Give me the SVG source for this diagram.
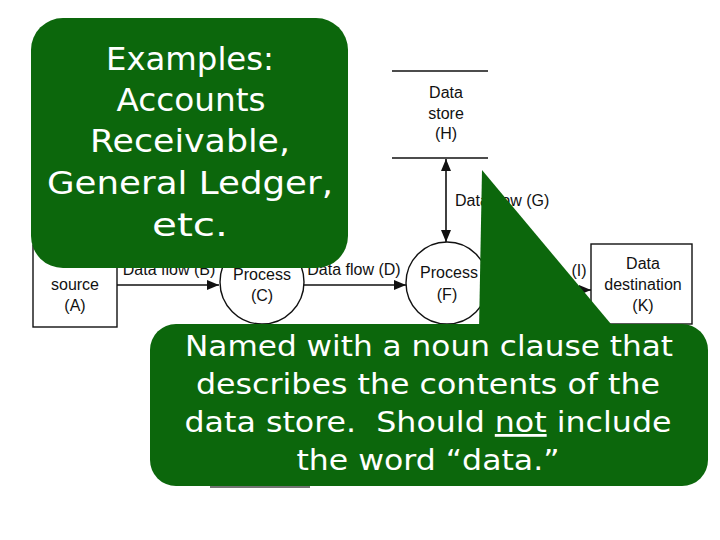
<svg xmlns="http://www.w3.org/2000/svg" width="720" height="540" viewBox="0 0 720 540">
<defs>
<style>
.lbl{font-family:"Liberation Sans",Arial,sans-serif;font-size:16px;fill:#111;text-anchor:middle}
.lbls{font-family:"Liberation Sans",Arial,sans-serif;font-size:16px;fill:#111}
.ln{stroke:#111;stroke-width:1.6;fill:none}
.shape{stroke:#111;stroke-width:1.4;fill:#fff}
.callout{fill:#0c670c}
.ct{font-family:"DejaVu Sans","Liberation Sans",sans-serif;fill:#fff;text-anchor:middle}
</style>
<marker id="ah" viewBox="0 0 12 10" refX="12" refY="5" markerWidth="12" markerHeight="10" markerUnits="userSpaceOnUse" orient="auto-start-reverse">
<path d="M0,0 L12,5 L0,10 Z" fill="#111"/>
</marker>
</defs>
<rect width="720" height="540" fill="#fff"/>

<g id="connectors">
<line class="ln" x1="117" y1="285" x2="219" y2="285" marker-end="url(#ah)"/>
<line class="ln" x1="304" y1="285" x2="406" y2="285" marker-end="url(#ah)"/>
<line class="ln" x1="446" y1="159" x2="446" y2="242" marker-start="url(#ah)" marker-end="url(#ah)"/>
<line class="ln" x1="487" y1="290" x2="591" y2="290" marker-end="url(#ah)"/>
<text class="lbl" x="169" y="275">Data flow (B)</text>
<text class="lbl" x="354" y="275">Data flow (D)</text>
<text class="lbls" x="455" y="206">Data flow (G)</text>
<text class="lbl" x="579" y="276">(I)</text>
</g>

<g id="node-A">
<rect class="shape" x="33" y="245" width="84" height="82"/>
<text class="lbl" x="75" y="290">source</text>
<text class="lbl" x="75" y="311">(A)</text>
</g>

<g id="node-C">
<circle class="shape" cx="262" cy="282" r="42"/>
<text class="lbl" x="262" y="280">Process</text>
<text class="lbl" x="262" y="301">(C)</text>
</g>

<g id="node-F">
<circle class="shape" cx="447" cy="283" r="41"/>
<text class="lbl" x="449" y="278">Process</text>
<text class="lbl" x="447" y="300">(F)</text>
</g>

<g id="node-H">
<line class="ln" x1="392" y1="71" x2="488" y2="71"/>
<line class="ln" x1="392" y1="158" x2="488" y2="158"/>
<text class="lbl" x="446" y="98">Data</text>
<text class="lbl" x="446" y="119">store</text>
<text class="lbl" x="446" y="139">(H)</text>
</g>

<g id="node-K">
<rect class="shape" x="591" y="244" width="101" height="80"/>
<text class="lbl" x="643" y="269">Data</text>
<text class="lbl" x="643" y="290">destination</text>
<text class="lbl" x="643" y="311">(K)</text>
</g>

<line x1="210" y1="487" x2="310" y2="487" stroke="#444" stroke-width="1.4"/>

<g id="callout-examples">
<rect class="callout" x="31" y="18" width="317" height="250" rx="32" ry="32"/>
<text class="ct" font-size="32" x="190" y="70" textLength="168" lengthAdjust="spacingAndGlyphs">Examples:</text>
<text class="ct" font-size="32" x="191" y="111" textLength="149" lengthAdjust="spacingAndGlyphs">Accounts</text>
<text class="ct" font-size="32" x="190" y="152" textLength="200" lengthAdjust="spacingAndGlyphs">Receivable,</text>
<text class="ct" font-size="32" x="190" y="194" textLength="286" lengthAdjust="spacingAndGlyphs">General Ledger,</text>
<text class="ct" font-size="32" x="190" y="236" textLength="76" lengthAdjust="spacingAndGlyphs">etc.</text>
</g>

<g id="callout-named">
<path class="callout" d="M482,170 L479,330 L616,330 Z"/>
<rect class="callout" x="150" y="324" width="558" height="162" rx="26" ry="26"/>
<text class="ct" font-size="28" x="429" y="356" textLength="488" lengthAdjust="spacingAndGlyphs">Named with a noun clause that</text>
<text class="ct" font-size="28" x="428" y="394" textLength="464" lengthAdjust="spacingAndGlyphs">describes the contents of the</text>
<text class="ct" font-size="28" x="428" y="432" textLength="487" lengthAdjust="spacingAndGlyphs" xml:space="preserve">data store.  Should <tspan text-decoration="underline">not</tspan> include</text>
<text class="ct" font-size="28" x="428" y="470" textLength="263" lengthAdjust="spacingAndGlyphs">the word “data.”</text>
</g>
</svg>
